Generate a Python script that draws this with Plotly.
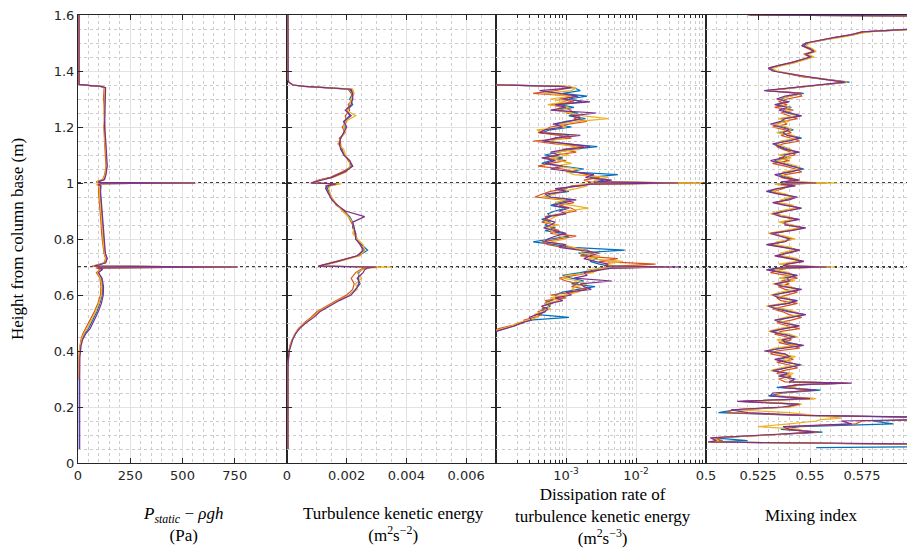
import plotly.graph_objects as go

# ---------------- data ----------------
series_names = ["Case 1", "Case 2", "Case 3", "Case 4"]
series_colors = ["#0072BD", "#D95319", "#EDB120", "#7E2F8E"]
ref_heights = [0.7, 1.0]

y_ticks = [0, 0.2, 0.4, 0.6, 0.8, 1.0, 1.2, 1.4, 1.6]
y_tick_text = ["0", "0.2", "0.4", "0.6", "0.8", "1", "1.2", "1.4", "1.6"]

# Panel 1: static pressure minus hydrostatic (Pa)
h_pressure = [1.60, 1.352, 1.348, 1.345, 1.34, 1.30, 1.25, 1.20, 1.15, 1.10, 1.06, 1.03,
              1.012, 1.006, 1.002, 1.0, 0.998, 0.994, 0.99, 0.97, 0.94, 0.90, 0.86, 0.82,
              0.78, 0.75, 0.73, 0.715, 0.708, 0.703, 0.700, 0.697, 0.692, 0.68, 0.66, 0.63,
              0.60, 0.57, 0.54, 0.51, 0.48, 0.46, 0.44, 0.42, 0.40, 0.38, 0.30, 0.05]
pres_blue = [5, 5, 60, 110, 130, 128, 126, 128, 130, 133, 138, 132, 125, 100, 95, 560, 110, 95,
             108, 105, 108, 112, 115, 118, 122, 128, 138, 130, 100, 75, 760, 90, 115, 95, 112,
             118, 116, 105, 90, 70, 50, 30, 18, 12, 8, 7, 6, 6]
pres_orange = [5, 5, 55, 105, 125, 122, 128, 124, 127, 130, 134, 128, 118, 92, 88, 555, 105, 90,
               100, 98, 102, 106, 110, 113, 118, 124, 132, 125, 92, 68, 755, 85, 108, 88, 105,
               110, 108, 95, 78, 58, 38, 22, 14, 9, 6, 5, 5, None]
pres_yellow = [5, 5, 58, 108, 128, 126, 124, 130, 128, 135, 136, 130, 120, 96, 90, 558, 108, 92,
               104, 102, 105, 109, 113, 116, 120, 126, 135, 128, 96, 72, 765, 88, 112, 92, 108,
               114, 112, 100, 84, 64, 44, 26, 16, 10, 7, 6, 6, None]
pres_purple = [5, 5, 62, 112, 132, 131, 129, 127, 133, 136, 140, 134, 127, 102, 97, 562, 112, 97,
               110, 108, 111, 115, 118, 121, 125, 131, 140, 133, 103, 78, 765, 93, 118, 98, 115,
               122, 121, 112, 97, 78, 58, 36, 22, 15, 11, 9, 8, 8]

# Panel 2: turbulence kinetic energy (m2/s2)
h_tke = [1.60, 1.40, 1.37, 1.36, 1.35, 1.345, 1.34, 1.335,
         1.32, 1.30, 1.28, 1.26, 1.24, 1.22, 1.20, 1.18, 1.16, 1.14, 1.12, 1.10, 1.08, 1.06, 1.04, 1.02,
         1.01, 1.003, 1.0, 0.997, 0.99,
         0.98, 0.96, 0.94, 0.92, 0.90, 0.88, 0.86, 0.84, 0.82, 0.80, 0.78, 0.76, 0.74, 0.72,
         0.71, 0.703, 0.70, 0.697, 0.69,
         0.68, 0.66, 0.64, 0.62, 0.60, 0.58, 0.56, 0.54, 0.52, 0.50, 0.48, 0.46, 0.44, 0.42, 0.40,
         0.38, 0.36, 0.34, 0.05]
tke_blue = [3e-5, 3e-5, 4e-5, 6e-5, 2.0e-4, 6e-4, 1.4e-3, 2.1e-3,
            2.2e-3, 2.1e-3, 2.2e-3, 2.0e-3, 2.1e-3, 1.9e-3, 1.95e-3, 1.9e-3, 1.8e-3, 1.75e-3, 1.85e-3,
            1.9e-3, 2.1e-3, 2.15e-3, 1.9e-3, 1.5e-3,
            1.1e-3, 0.9e-3, 0.85e-3, 1.7e-3, 1.4e-3,
            1.35e-3, 1.45e-3, 1.5e-3, 1.7e-3, 1.9e-3, 2.1e-3, 2.2e-3, 2.2e-3, 2.3e-3, 2.3e-3, 2.5e-3,
            2.7e-3, 2.4e-3, 1.7e-3,
            1.3e-3, 1.1e-3, 2.9e-3, 2.7e-3, 2.5e-3,
            2.4e-3, 2.4e-3, 2.4e-3, 2.3e-3, 2.1e-3, 1.7e-3, 1.35e-3, 1.05e-3, 0.85e-3, 0.6e-3, 0.4e-3,
            0.27e-3, 0.18e-3, 0.11e-3, 0.07e-3, 0.05e-3, 0.04e-3, 0.03e-3, 3e-5]
tke_orange = [3e-5, 3e-5, 4e-5, 6e-5, 1.8e-4, 5.5e-4, 1.3e-3, 2.05e-3,
              2.15e-3, 2.2e-3, 2.05e-3, 2.1e-3, 1.95e-3, 2.0e-3, 1.85e-3, 1.95e-3, 1.75e-3, 1.8e-3,
              1.8e-3, 1.95e-3, 2.05e-3, 2.2e-3, 1.85e-3, 1.45e-3,
              1.05e-3, 0.85e-3, 0.8e-3, 1.75e-3, 1.3e-3,
              1.3e-3, 1.4e-3, 1.55e-3, 1.65e-3, 1.95e-3, 2.05e-3, 2.15e-3, 2.25e-3, 2.25e-3, 2.35e-3,
              2.45e-3, 2.6e-3, 2.35e-3, 1.65e-3,
              1.25e-3, 1.05e-3, 2.95e-3, 2.6e-3, 2.45e-3,
              2.3e-3, 2.15e-3, 2.25e-3, 2.2e-3, 2.0e-3, 1.65e-3, 1.3e-3, 1.0e-3, 0.8e-3, 0.57e-3,
              0.38e-3, 0.26e-3, 0.17e-3, 0.1e-3, 0.065e-3, 0.05e-3, 0.04e-3, 0.03e-3, 3e-5]
tke_yellow = [3e-5, 3e-5, 4e-5, 6e-5, 2.1e-4, 6.2e-4, 1.45e-3, 2.2e-3,
              2.25e-3, 2.15e-3, 2.1e-3, 2.0e-3, 2.3e-3, 1.95e-3, 1.9e-3, 1.95e-3, 1.8e-3, 1.7e-3,
              1.9e-3, 1.95e-3, 2.1e-3, 2.1e-3, 2.0e-3, 1.55e-3,
              1.1e-3, 0.95e-3, 0.9e-3, 1.8e-3, 1.45e-3,
              1.4e-3, 1.45e-3, 1.55e-3, 1.7e-3, 1.85e-3, 2.05e-3, 2.2e-3, 2.25e-3, 2.2e-3, 2.35e-3,
              2.55e-3, 2.6e-3, 2.45e-3, 1.75e-3,
              1.35e-3, 1.15e-3, 3.5e-3, 2.8e-3, 2.5e-3,
              2.35e-3, 2.5e-3, 2.3e-3, 2.35e-3, 2.1e-3, 1.7e-3, 1.35e-3, 1.05e-3, 0.85e-3, 0.6e-3,
              0.4e-3, 0.27e-3, 0.18e-3, 0.11e-3, 0.07e-3, 0.05e-3, 0.04e-3, 0.03e-3, 3e-5]
tke_purple = [3e-5, 3e-5, 4e-5, 6e-5, 2.0e-4, 6e-4, 1.4e-3, 2.15e-3,
              2.2e-3, 2.2e-3, 2.15e-3, 1.95e-3, 2.15e-3, 1.9e-3, 2.0e-3, 1.9e-3, 1.8e-3, 1.75e-3,
              1.8e-3, 1.9e-3, 2.1e-3, 2.2e-3, 1.95e-3, 1.5e-3,
              1.1e-3, 0.85e-3, 0.8e-3, 1.65e-3, 1.35e-3,
              1.3e-3, 1.4e-3, 1.5e-3, 1.7e-3, 1.95e-3, 2.6e-3, 2.2e-3, 2.25e-3, 2.3e-3, 2.3e-3,
              2.45e-3, 2.55e-3, 2.35e-3, 1.7e-3,
              1.25e-3, 1.05e-3, 3.0e-3, 2.7e-3, 2.6e-3,
              2.55e-3, 2.35e-3, 2.45e-3, 2.3e-3, 2.15e-3, 1.75e-3, 1.4e-3, 1.1e-3, 0.9e-3, 0.63e-3,
              0.42e-3, 0.28e-3, 0.19e-3, 0.12e-3, 0.075e-3, 0.05e-3, 0.04e-3, 0.03e-3, 3e-5]

# Panel 3: dissipation rate (m2/s3)
h_eps = [1.352, 1.345, 1.34, 1.33, 1.32, 1.31, 1.30, 1.29, 1.28, 1.27,
         1.26, 1.25, 1.24, 1.23, 1.22, 1.21, 1.20, 1.19, 1.18, 1.17,
         1.16, 1.15, 1.14, 1.13, 1.12, 1.11, 1.10, 1.09, 1.08, 1.07,
         1.06, 1.05, 1.04, 1.03, 1.02, 1.01, 1.004, 1.0, 0.996, 0.99,
         0.98, 0.97, 0.96, 0.95, 0.94, 0.93, 0.92, 0.91, 0.90, 0.89,
         0.88, 0.87, 0.86, 0.85, 0.84, 0.83, 0.82, 0.81, 0.80, 0.79,
         0.78, 0.77, 0.76, 0.75, 0.74, 0.73, 0.72, 0.71, 0.704, 0.70,
         0.696, 0.69, 0.68, 0.67, 0.66, 0.65, 0.64, 0.63, 0.62, 0.61,
         0.60, 0.59, 0.58, 0.57, 0.56, 0.55, 0.54, 0.53, 0.52, 0.51,
         0.50, 0.49, 0.48, 0.47]
eps_blue = [5e-5, 9e-4, 1.3e-3, 1.6e-3, 9e-4, 2.0e-3, 1.1e-3, 1.7e-3, 8e-4, 1.3e-3,
            7e-4, 1.5e-3, 1.1e-3, 1.9e-3, 1.0e-3, 7e-4, 1.2e-3, 6e-4, 4.5e-4, 1.1e-3,
            7e-4, 5e-4, 1.0e-3, 2.8e-3, 1.2e-3, 8e-4, 5e-4, 9e-4, 6e-4, 4.5e-4,
            1.0e-3, 1.8e-3, 1.1e-3, 5.5e-3, 2.2e-3, 3.5e-3, 2.5e-3, 6e-2, 2.0e-3, 1.5e-3,
            8e-4, 1.1e-3, 6e-4, 5e-4, 1.2e-3, 8e-4, 6e-4, 1.0e-3, 7e-4, 5.5e-4,
            6e-4, 4.5e-4, 6e-4, 5e-4, 7e-4, 5e-4, 9e-4, 1.1e-3, 6e-4, 3.4e-4,
            7e-4, 1.2e-3, 6.9e-3, 1.5e-3, 2.0e-3, 2.8e-3, 2.2e-3, 3.0e-3, 4.0e-3, 2.5e-2,
            4.0e-3, 2.5e-3, 1.6e-3, 9e-4, 1.2e-3, 1.8e-3, 1.2e-3, 2.6e-3, 1.5e-3, 9e-4,
            7e-4, 8e-4, 6e-4, 5e-4, 6e-4, 4.5e-4, 5e-4, 4e-4, 1.1e-3, 3e-4,
            2.2e-4, 1.8e-4, 1.3e-4, 1.0e-4]
eps_orange = [5e-5, 1.0e-3, 1.1e-3, 7e-4, 3.4e-4, 1.4e-3, 8e-4, 1.3e-3, 6e-4, 9e-4,
              1.2e-3, 1.0e-3, 1.6e-3, 1.3e-3, 2.0e-3, 1.0e-3, 6e-4, 5e-4, 4e-4, 8e-4,
              1.2e-3, 3.4e-4, 7e-4, 1.8e-3, 9e-4, 1.4e-3, 7e-4, 5e-4, 1.0e-3, 6e-4,
              4e-4, 9e-4, 1.4e-3, 2.0e-3, 3.0e-3, 1.8e-3, 2.2e-3, 1.0e-1, 2.5e-3, 1.2e-3,
              1.0e-3, 6e-4, 4.5e-4, 3.6e-4, 9e-4, 1.3e-3, 8e-4, 1.2e-3, 1.4e-3, 8e-4,
              5e-4, 5.5e-4, 4.5e-4, 7e-4, 6e-4, 8e-4, 6e-4, 1.4e-3, 8e-4, 4.5e-4,
              5.5e-4, 9e-4, 2.0e-3, 2.5e-3, 1.6e-3, 5.5e-3, 3.0e-3, 1.9e-2, 6e-3, 2.0e-2,
              3.0e-3, 3.0e-3, 2.2e-3, 1.4e-3, 8e-4, 1.0e-3, 1.5e-3, 1.2e-3, 2.0e-3, 1.3e-3,
              6e-4, 1.0e-3, 5e-4, 6.5e-4, 4.5e-4, 5e-4, 4e-4, 4.5e-4, 3.5e-4, 2.5e-4,
              2.5e-4, 1.6e-4, 1.1e-4, 9e-5]
eps_yellow = [5e-5, 1.1e-3, 1.4e-3, 1.2e-3, 5e-4, 1.2e-3, 6e-4, 1.0e-3, 5.5e-4, 1.1e-3,
              7e-4, 1.2e-3, 1.8e-3, 4.0e-3, 1.5e-3, 8e-4, 1.0e-3, 3.8e-4, 5e-4, 1.4e-3,
              9e-4, 6e-4, 8e-4, 1.3e-3, 1.6e-3, 7e-4, 1.1e-3, 6e-4, 8e-4, 1.2e-3,
              7e-4, 1.5e-3, 1.0e-3, 1.3e-3, 4.0e-3, 2.5e-3, 3.0e-3, 9e-2, 1.6e-3, 2.0e-3,
              1.4e-3, 9e-4, 7e-4, 4.5e-4, 1.0e-3, 7e-4, 1.2e-3, 2.1e-3, 1.0e-3, 9e-4,
              7e-4, 6e-4, 5e-4, 8e-4, 5e-4, 6e-4, 7e-4, 8e-4, 1.0e-3, 6e-4,
              9e-4, 1.3e-3, 1.8e-3, 1.6e-3, 3.0e-3, 2.0e-3, 6.5e-3, 3.5e-3, 5e-3, 3.0e-2,
              3.5e-3, 2.0e-3, 2.5e-3, 1.0e-3, 9e-4, 1.5e-3, 2.0e-3, 1.4e-3, 1.2e-3, 1.5e-3,
              1.0e-3, 6e-4, 8e-4, 5e-4, 5.5e-4, 6e-4, 4.5e-4, 3.5e-4, 4e-4, 2.8e-4,
              2.0e-4, 1.7e-4, 1.2e-4, 9e-5]
eps_purple = [5e-5, 8e-4, 1.2e-3, 4.2e-4, 8e-4, 1.5e-3, 9e-4, 2.2e-3, 7e-4, 1.0e-3,
              6e-4, 2.7e-3, 1.2e-3, 1.6e-3, 1.1e-3, 6.5e-4, 9e-4, 5e-4, 4.2e-4, 1.6e-3,
              7e-4, 4.5e-4, 1.1e-3, 2.2e-3, 1.0e-3, 6e-4, 8e-4, 4.5e-4, 7e-4, 5e-4,
              9e-4, 6e-4, 1.3e-3, 2.5e-3, 1.9e-3, 4.5e-3, 2.8e-3, 4e-2, 2.2e-3, 1.6e-3,
              7e-4, 1.0e-3, 5e-4, 6e-4, 1.4e-3, 9e-4, 6.5e-4, 1.1e-3, 8e-4, 1.0e-3,
              5.5e-4, 5e-4, 7e-4, 6e-4, 4.8e-4, 7e-4, 1.0e-3, 7e-4, 5.5e-4, 5e-4,
              1.0e-3, 8e-4, 1.5e-3, 3.0e-3, 2.2e-3, 1.8e-3, 2.6e-3, 4.0e-3, 3.5e-3, 4.3e-2,
              4.5e-3, 3.0e-3, 1.8e-3, 2.0e-3, 1.3e-3, 4.5e-3, 1.6e-3, 1.8e-3, 2.3e-3, 1.0e-3,
              1.2e-3, 7e-4, 9e-4, 6e-4, 4.5e-4, 5.5e-4, 5e-4, 3.8e-4, 3e-4, 3.2e-4,
              2.3e-4, 1.9e-4, 1.4e-4, 1.0e-4]

# Panel 4: mixing index
h_mix = [1.60, 1.598, 1.596, 1.57, 1.549, 1.54, 1.53, 1.52, 1.51, 1.50,
         1.49, 1.48, 1.47, 1.46, 1.45, 1.44, 1.43, 1.42, 1.41, 1.40,
         1.39, 1.38, 1.37, 1.36, 1.35, 1.34, 1.33,
         1.32, 1.31, 1.30, 1.29, 1.28, 1.27, 1.26, 1.25, 1.24, 1.23,
         1.22, 1.21, 1.20, 1.19, 1.18, 1.17, 1.16, 1.15, 1.14, 1.13,
         1.12, 1.11, 1.10, 1.09, 1.08, 1.07, 1.06, 1.05, 1.04, 1.03,
         1.02, 1.01, 1.004, 1.0, 0.996,
         0.99, 0.98, 0.97, 0.96, 0.95, 0.94, 0.93, 0.92, 0.91, 0.90,
         0.89, 0.88, 0.87, 0.86, 0.85, 0.84, 0.83, 0.82, 0.81, 0.80,
         0.79, 0.78, 0.77, 0.76, 0.75, 0.74, 0.73, 0.72, 0.71,
         0.704, 0.70, 0.696,
         0.69, 0.68, 0.67, 0.66, 0.65, 0.64, 0.63, 0.62, 0.61, 0.60,
         0.59, 0.58, 0.57, 0.56, 0.55, 0.54, 0.53, 0.52, 0.51, 0.50,
         0.49, 0.48, 0.47, 0.46, 0.45, 0.44, 0.43, 0.42, 0.41, 0.40,
         0.39, 0.38, 0.37, 0.36, 0.35, 0.34, 0.33, 0.32, 0.31, 0.30,
         0.29, 0.285, 0.28, 0.27, 0.26, 0.25, 0.24, 0.23, 0.22, 0.21,
         0.20, 0.19, 0.18, 0.17, 0.16, 0.155, 0.15, 0.14, 0.13, 0.12,
         0.11, 0.10, 0.09, 0.08, 0.075, 0.065, 0.06, 0.055]
mix_blue = [0.521, 0.600, 0.615, 0.620, 0.598, 0.576, 0.571, 0.563, 0.555, 0.549,
            0.547, 0.550, 0.552, 0.548, 0.551, 0.547, 0.542, 0.536, 0.531, 0.533,
            0.540, 0.547, 0.558, 0.569, 0.555, 0.542, 0.529,
            0.547, 0.540, 0.536, 0.538, 0.534, 0.541, 0.537, 0.539, 0.545, 0.536,
            0.538, 0.533, 0.537, 0.542, 0.535, 0.540, 0.546, 0.538, 0.533, 0.536,
            0.540, 0.544, 0.536, 0.539, 0.533, 0.537, 0.542, 0.547, 0.539, 0.535,
            0.539, 0.544, 0.538, 0.558, 0.534,
            0.541, 0.536, 0.530, 0.537, 0.543, 0.538, 0.534, 0.540, 0.545, 0.537,
            0.533, 0.538, 0.544, 0.536, 0.540, 0.547, 0.539, 0.532, 0.537, 0.541,
            0.536, 0.531, 0.539, 0.544, 0.538, 0.535, 0.542, 0.546, 0.537,
            0.540, 0.560, 0.535,
            0.531, 0.538, 0.543, 0.537, 0.541, 0.534, 0.539, 0.545, 0.538, 0.533,
            0.537, 0.543, 0.539, 0.531, 0.536, 0.541, 0.547, 0.540, 0.535, 0.538,
            0.544, 0.537, 0.532, 0.538, 0.542, 0.536, 0.540, 0.546, 0.535, 0.530,
            0.537, 0.541, 0.535, 0.539, 0.545, 0.538, 0.533, 0.540, 0.536, 0.542,
            0.542, 0.566, 0.548, 0.534, 0.555, 0.537, 0.530, 0.548, 0.518, 0.542,
            0.540, 0.514, 0.506, 0.545, 0.630, 0.610, 0.580, 0.590, 0.545, 0.536,
            0.556, 0.530, 0.504, 0.520, 0.502, 0.620, 0.630, 0.553]
mix_orange = [0.521, 0.601, 0.616, 0.621, 0.599, 0.575, 0.570, 0.562, 0.554, 0.548,
              0.546, 0.549, 0.552, 0.547, 0.550, 0.546, 0.541, 0.535, 0.530, 0.533,
              0.539, 0.546, 0.557, 0.567, 0.554, 0.541, 0.530,
              0.545, 0.546, 0.539, 0.535, 0.539, 0.533, 0.542, 0.536, 0.540, 0.544,
              0.537, 0.539, 0.532, 0.538, 0.541, 0.536, 0.541, 0.545, 0.537, 0.534,
              0.537, 0.541, 0.543, 0.535, 0.540, 0.532, 0.538, 0.543, 0.546, 0.538,
              0.536, 0.542, 0.539, 0.556, 0.537,
              0.540, 0.537, 0.532, 0.536, 0.542, 0.539, 0.533, 0.541, 0.544, 0.538,
              0.534, 0.537, 0.543, 0.537, 0.539, 0.546, 0.540, 0.533, 0.536, 0.542,
              0.537, 0.530, 0.538, 0.545, 0.539, 0.534, 0.541, 0.547, 0.538,
              0.538, 0.557, 0.540,
              0.535, 0.531, 0.539, 0.544, 0.536, 0.540, 0.535, 0.538, 0.544, 0.539,
              0.534, 0.536, 0.544, 0.538, 0.532, 0.537, 0.540, 0.546, 0.541, 0.534,
              0.539, 0.545, 0.536, 0.533, 0.539, 0.541, 0.535, 0.541, 0.545, 0.534,
              0.531, 0.538, 0.542, 0.534, 0.540, 0.544, 0.537, 0.534, 0.541, 0.535,
              0.538, 0.567, 0.543, 0.538, 0.551, 0.535, 0.533, 0.552, 0.517, 0.544,
              0.539, 0.513, 0.510, 0.546, 0.635, 0.605, 0.575, 0.572, 0.541, 0.538,
              0.554, 0.530, 0.503, 0.508, 0.501, 0.630, 0.640, 0.640]
mix_yellow = [0.522, 0.602, 0.617, 0.622, 0.600, 0.578, 0.572, 0.565, 0.556, 0.550,
              0.548, 0.551, 0.553, 0.549, 0.552, 0.548, 0.543, 0.537, 0.532, 0.534,
              0.541, 0.548, 0.558, 0.568, 0.556, 0.543, 0.530,
              0.546, 0.541, 0.534, 0.539, 0.536, 0.540, 0.538, 0.541, 0.543, 0.535,
              0.540, 0.532, 0.539, 0.541, 0.534, 0.542, 0.544, 0.536, 0.534, 0.538,
              0.541, 0.542, 0.535, 0.541, 0.534, 0.539, 0.544, 0.545, 0.537, 0.536,
              0.541, 0.543, 0.540, 0.563, 0.533,
              0.539, 0.535, 0.532, 0.539, 0.541, 0.536, 0.535, 0.542, 0.543, 0.535,
              0.531, 0.540, 0.542, 0.535, 0.542, 0.545, 0.537, 0.530, 0.538, 0.543,
              0.534, 0.533, 0.541, 0.542, 0.536, 0.537, 0.544, 0.544, 0.535,
              0.542, 0.562, 0.537,
              0.533, 0.540, 0.541, 0.535, 0.543, 0.532, 0.541, 0.543, 0.536, 0.531,
              0.539, 0.541, 0.537, 0.529, 0.538, 0.543, 0.545, 0.538, 0.533, 0.540,
              0.542, 0.535, 0.530, 0.540, 0.544, 0.534, 0.538, 0.544, 0.533, 0.529,
              0.535, 0.543, 0.537, 0.541, 0.543, 0.536, 0.531, 0.542, 0.538, 0.540,
              0.541, 0.568, 0.546, 0.539, 0.552, 0.534, 0.535, 0.553, 0.520, 0.546,
              0.541, 0.515, 0.540, 0.553, 0.565, 0.555, 0.553, 0.540, 0.525, 0.545,
              0.549, 0.532, 0.503, 0.506, 0.501, 0.620, 0.640, 0.640]
mix_purple = [0.520, 0.600, 0.615, 0.620, 0.597, 0.575, 0.570, 0.562, 0.554, 0.548,
              0.546, 0.550, 0.552, 0.548, 0.550, 0.546, 0.541, 0.535, 0.530, 0.532,
              0.540, 0.547, 0.557, 0.567, 0.554, 0.541, 0.528,
              0.546, 0.538, 0.534, 0.540, 0.533, 0.539, 0.535, 0.541, 0.546, 0.538,
              0.536, 0.531, 0.535, 0.540, 0.537, 0.539, 0.545, 0.540, 0.532, 0.535,
              0.538, 0.545, 0.538, 0.537, 0.531, 0.536, 0.541, 0.546, 0.541, 0.533,
              0.537, 0.545, 0.536, 0.553, 0.536,
              0.543, 0.534, 0.529, 0.535, 0.544, 0.540, 0.532, 0.538, 0.546, 0.539,
              0.532, 0.536, 0.545, 0.538, 0.538, 0.548, 0.541, 0.531, 0.535, 0.540,
              0.538, 0.529, 0.537, 0.545, 0.540, 0.533, 0.540, 0.547, 0.539,
              0.537, 0.558, 0.534,
              0.529, 0.537, 0.544, 0.539, 0.540, 0.533, 0.537, 0.546, 0.540, 0.532,
              0.535, 0.544, 0.540, 0.530, 0.534, 0.540, 0.548, 0.541, 0.533, 0.537,
              0.545, 0.538, 0.531, 0.536, 0.543, 0.537, 0.538, 0.547, 0.537, 0.528,
              0.538, 0.540, 0.533, 0.538, 0.546, 0.539, 0.532, 0.539, 0.535, 0.543,
              0.540, 0.570, 0.545, 0.536, 0.553, 0.532, 0.531, 0.550, 0.515, 0.545,
              0.537, 0.512, 0.520, 0.548, 0.640, 0.600, 0.565, 0.570, 0.537, 0.540,
              0.552, 0.528, 0.502, 0.505, 0.501, 0.640, 0.650, 0.650]

panels = [
    (h_pressure, [pres_blue, pres_orange, pres_yellow, pres_purple]),
    (h_tke, [tke_blue, tke_orange, tke_yellow, tke_purple]),
    (h_eps, [eps_blue, eps_orange, eps_yellow, eps_purple]),
    (h_mix, [mix_blue, mix_orange, mix_yellow, mix_purple]),
]
for hs, sers in panels:
    for s in sers:
        assert len(s) == len(hs), (len(s), len(hs))

# ---------------- layout ----------------
W, H = 907, 554
ML, MR, MT, MB = 78, 0, 15, 91
plot_w = W - ML - MR
edges_px = [78, 287, 496, 706, 907]
domains = [[(edges_px[i] - ML) / plot_w, (edges_px[i + 1] - ML) / plot_w] for i in range(4)]

TICK_FONT = dict(family="DejaVu Sans", size=13, color="#262626")
TITLE_FONT = dict(family="Liberation Serif", size=17, color="#000000")
AX = "#262626"
GRID = "#e2e2e2"
MINOR_GRID = "#cccccc"

fig = go.Figure()
for pi, (hs, sers) in enumerate(panels):
    xa = "x" if pi == 0 else f"x{pi+1}"
    ya = "y" if pi == 0 else f"y{pi+1}"
    for si, s in enumerate(sers):
        fig.add_trace(go.Scatter(x=s, y=hs, mode="lines", name=series_names[si],
                                 line=dict(color=series_colors[si], width=1.2),
                                 xaxis=xa, yaxis=ya, showlegend=False, connectgaps=False,
                                 hoverinfo="skip"))

def xcfg(i, **kw):
    d = dict(domain=domains[i], anchor="y" if i == 0 else f"y{i+1}",
             showline=True, linecolor=AX, linewidth=1, mirror="ticks",
             ticks="inside", ticklen=5, tickcolor=AX, tickwidth=1,
             showgrid=True, gridcolor=GRID, gridwidth=1, zeroline=False,
             tickfont=TICK_FONT, automargin=False, fixedrange=True)
    d.update(kw)
    return d

def ycfg(i, **kw):
    d = dict(domain=[0, 1], anchor="x" if i == 0 else f"x{i+1}", range=[0, 1.6],
             tickvals=y_ticks, ticktext=y_tick_text,
             showline=True, linecolor=AX, linewidth=1, mirror="ticks",
             ticks="inside", ticklen=5, tickcolor=AX, tickwidth=1,
             showgrid=True, gridcolor=GRID, gridwidth=1, zeroline=False,
             minor=dict(dtick=0.05, tick0=0, showgrid=True, gridcolor=MINOR_GRID,
                        griddash="dot", gridwidth=1, ticks=""),
             tickfont=TICK_FONT, automargin=False, showticklabels=(i == 0), fixedrange=True)
    if i > 0:
        d["matches"] = "y"
    d.update(kw)
    return d

p1_ticks = [0, 250, 500, 750]
p2_ticks = [0, 0.002, 0.004, 0.006]
p3_ticks = [1e-4, 1e-3, 1e-2, 1e-1]
p3_text = ["", "10<sup>-3</sup>", "10<sup>-2</sup>", ""]
p3_minor = [m * d for d in [1e-4, 1e-3, 1e-2] for m in range(2, 10)]
p4_ticks = [0.5, 0.525, 0.55, 0.575]

fig.update_layout(
    xaxis=xcfg(0, range=[0, 1000], tickvals=p1_ticks, ticktext=[str(v) for v in p1_ticks],
               minor=dict(dtick=50, tick0=0, showgrid=True, gridcolor=MINOR_GRID, griddash="dot", ticks="")),
    xaxis2=xcfg(1, range=[0, 0.007], tickvals=p2_ticks, ticktext=["0", "0.002", "0.004", "0.006"],
                minor=dict(dtick=0.0005, tick0=0, showgrid=True, gridcolor=MINOR_GRID, griddash="dot", ticks="")),
    xaxis3=xcfg(2, type="log", range=[-4, -1], tickvals=p3_ticks, ticktext=p3_text,
                minor=dict(tickmode="array", tickvals=p3_minor, showgrid=True, gridcolor=MINOR_GRID,
                           griddash="dot", ticks="inside", ticklen=3, tickcolor=AX)),
    xaxis4=xcfg(3, range=[0.5, 0.5 + (907 - 706) / 2080], tickvals=p4_ticks,
                ticktext=["0.5", "0.525", "0.55", "0.575"],
                minor=dict(dtick=0.005, tick0=0.5, showgrid=True, gridcolor=MINOR_GRID, griddash="dot", ticks="")),
    yaxis=ycfg(0), yaxis2=ycfg(1), yaxis3=ycfg(2), yaxis4=ycfg(3, mirror=False),
    width=W, height=H, margin=dict(l=ML, r=MR, t=MT, b=MB, pad=0),
    paper_bgcolor="white", plot_bgcolor="white", showlegend=False, hovermode=False,
)

for h in ref_heights:
    fig.add_shape(type="line", xref="paper", x0=0, x1=1, yref="y", y0=h, y1=h,
                  line=dict(color="#000000", width=1.5, dash="dot"), layer="below")

plot_h = H - MT - MB
def py(pix):
    return (H - MB - pix) / plot_h

def px(pix):
    return (pix - ML) / plot_w

x_titles = [
    (183, 524, "<i>P<sub>static</sub></i> − <i>ρgh</i><br>(Pa)"),
    (393, 524, "Turbulence kenetic energy<br>(m<sup>2</sup>s<sup>−2</sup>)"),
    (603, 516, "Dissipation rate of<br>turbulence kenetic energy<br>(m<sup>2</sup>s<sup>−3</sup>)"),
    (811, 515, "Mixing index"),
]
for cx, cy, txt in x_titles:
    fig.add_annotation(text=txt, xref="paper", yref="paper", x=px(cx), y=py(cy),
                       xanchor="center", yanchor="middle", showarrow=False, font=TITLE_FONT)

fig.add_annotation(text="Height from column base (m)", xref="paper", yref="paper",
                   x=px(17), y=py(239), xanchor="center", yanchor="middle", textangle=-90,
                   showarrow=False, font=TITLE_FONT)

fig.write_html("out.html", config={"displayModeBar": False, "staticPlot": True},
               post_script="document.body.style.margin='0';document.body.style.overflow='hidden';")
